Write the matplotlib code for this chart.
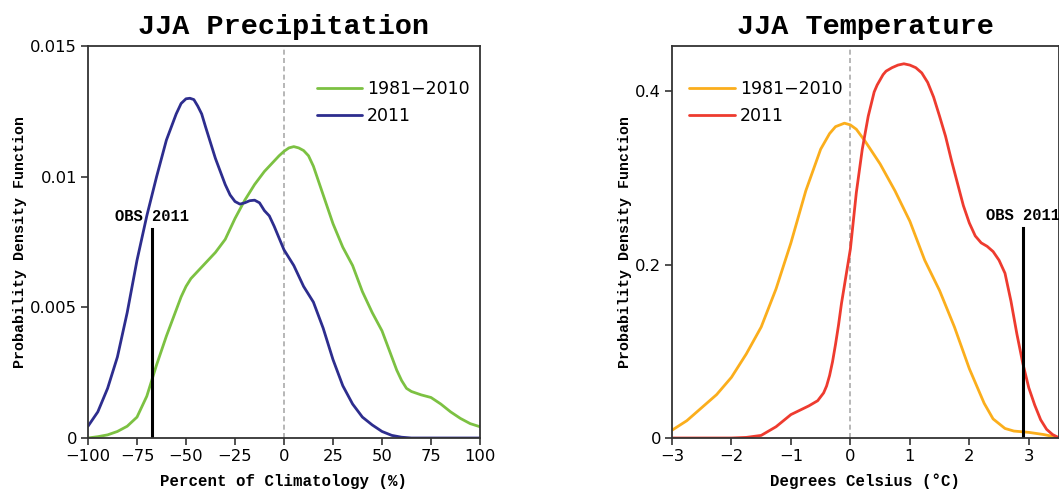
import matplotlib
matplotlib.use("Agg")
import matplotlib.pyplot as plt

# ---- data ----
precip_clim_x = [-100, -95, -90, -85, -80, -75, -70, -65, -60, -55, -52.5, -50, -47.5,
                 -45, -40, -35, -30, -25, -20, -15, -10, -5, -2.5, 0, 2.5, 5, 7.5,
                 10, 12.5, 15, 20, 25, 30, 35, 40, 45, 50, 55, 57.5, 60, 62.5, 65,
                 70, 75, 80, 85, 90, 95, 100]
precip_clim = [0.0, 0.00005, 0.00012, 0.00025, 0.00045, 0.0008, 0.0016, 0.0028,
               0.0039, 0.0049, 0.0054, 0.0058, 0.0061, 0.0063, 0.0067, 0.0071,
               0.0076, 0.0084, 0.0091, 0.0097, 0.0102, 0.0106, 0.0108, 0.01097,
               0.0111, 0.01115, 0.0111, 0.0110, 0.0108, 0.0104, 0.0093, 0.0082,
               0.0073, 0.0066, 0.0056, 0.0048, 0.0041, 0.0031, 0.0026, 0.0022,
               0.0019, 0.00178, 0.00165, 0.00155, 0.0013, 0.0010, 0.00075,
               0.00055, 0.00043]
precip_2011_x = [-100, -95, -90, -85, -80, -75, -70, -65, -60, -55, -52.5, -50, -48,
                 -46, -44, -42, -40, -35, -30, -27.5, -25, -22.5, -20, -17.5, -15,
                 -12.5, -10, -7.5, -5, 0, 5, 10, 15, 20, 25, 30, 35, 40, 45, 50,
                 55, 60, 65, 70, 80, 90, 100]
precip_2011 = [0.00045, 0.0010, 0.0019, 0.0031, 0.0048, 0.0068, 0.0085, 0.0100,
               0.0114, 0.0124, 0.0128, 0.01298, 0.0130, 0.01295, 0.0127, 0.0124,
               0.0119, 0.0107, 0.0097, 0.0093, 0.00905, 0.00895, 0.0090, 0.00908,
               0.0091, 0.0090, 0.0087, 0.0085, 0.0081, 0.0072, 0.0066, 0.0058,
               0.0052, 0.0042, 0.0030, 0.0020, 0.0013, 0.0008, 0.0005, 0.00025,
               0.0001, 0.00003, 0.0, 0.0, 0.0, 0.0, 0.0]
precip_obs = -67.3
precip_obs_top = 0.0080

temp_clim_x = [-3.0, -2.75, -2.5, -2.25, -2.0, -1.75, -1.5, -1.25, -1.0, -0.75,
               -0.5, -0.35, -0.25, -0.1, 0.0, 0.1, 0.25, 0.5, 0.75, 1.0, 1.25,
               1.5, 1.75, 2.0, 2.25, 2.4, 2.6, 2.75, 3.0, 3.25, 3.5]
temp_clim = [0.009, 0.020, 0.035, 0.050, 0.070, 0.097, 0.128, 0.172, 0.225, 0.285,
             0.333, 0.351, 0.359, 0.363, 0.361, 0.356, 0.342, 0.316, 0.285, 0.250,
             0.205, 0.170, 0.128, 0.080, 0.040, 0.022, 0.011, 0.008, 0.0065,
             0.004, 0.0005]
temp_2011_x = [-3.0, -2.5, -2.0, -1.75, -1.5, -1.25, -1.0, -0.85, -0.7, -0.55,
               -0.45, -0.4, -0.35, -0.3, -0.25, -0.2, -0.15, -0.1, -0.05, 0.0, 0.1,
               0.2, 0.3, 0.4, 0.45, 0.5, 0.55, 0.6, 0.7, 0.8, 0.9, 1.0, 1.1, 1.2,
               1.3, 1.4, 1.5, 1.6, 1.7, 1.8, 1.9, 2.0, 2.1, 2.2, 2.3, 2.4, 2.5,
               2.6, 2.7, 2.8, 2.9, 3.0, 3.1, 3.2, 3.3, 3.4, 3.5]
temp_2011 = [0.0, 0.0, 0.0, 0.0007, 0.003, 0.013, 0.027, 0.032, 0.037, 0.043,
             0.052, 0.060, 0.072, 0.088, 0.108, 0.130, 0.155, 0.176, 0.197, 0.218,
             0.283, 0.333, 0.371, 0.399, 0.407, 0.413, 0.419, 0.423, 0.427, 0.430,
             0.4315, 0.430, 0.427, 0.421, 0.410, 0.393, 0.371, 0.348, 0.320,
             0.294, 0.268, 0.248, 0.233, 0.225, 0.221, 0.215, 0.205, 0.190, 0.158,
             0.120, 0.086, 0.058, 0.038, 0.021, 0.010, 0.004, 0.0005]
temp_obs = 2.9
temp_obs_top = 0.242

precip_xticks = [-100, -75, -50, -25, 0, 25, 50, 75, 100]
precip_yticks = [0, 0.005, 0.01, 0.015]
precip_ylabels = ["0", "0.005", "0.01", "0.015"]
temp_xticks = [-3, -2, -1, 0, 1, 2, 3]
temp_yticks = [0, 0.2, 0.4]
temp_ylabels = ["0", "0.2", "0.4"]

MONO = "Liberation Mono"
SANS = "DejaVu Sans"

fig = plt.figure(figsize=(10.59, 4.94), dpi=100)
ax1 = fig.add_axes([88 / 1059, 56 / 494, 392 / 1059, 392 / 494])
ax2 = fig.add_axes([672 / 1059, 56 / 494, 386.5 / 1059, 392 / 494])


def style(ax, title, xlabel):
    for s in ax.spines.values():
        s.set_color("#333333")
        s.set_linewidth(1.3)
    ax.tick_params(direction="out", length=5, width=1.2, color="#333333",
                   labelsize=11.8, pad=3)
    for lab in ax.get_xticklabels() + ax.get_yticklabels():
        lab.set_family(SANS)
    ax.set_title(title, fontfamily=MONO, fontweight="bold", fontsize=20.5, pad=9)
    ax.set_xlabel(xlabel, fontfamily=MONO, fontweight="bold", fontsize=11.3,
                  labelpad=7)
    ax.set_ylabel("Probability Density Function", fontfamily=MONO,
                  fontweight="bold", fontsize=10.8, labelpad=2)


line_kw = dict(lw=2.0, solid_joinstyle="round", solid_capstyle="round")
leg_kw = dict(frameon=False, handlelength=2.6, handletextpad=0.3,
              labelspacing=0.55, borderaxespad=0.2,
              prop={"family": SANS, "size": 12.5})

# precipitation
ax1.axvline(0, color="#aaaaaa", lw=1.2, ls=(0, (3, 2)))
ax1.plot(precip_clim_x, precip_clim, color="#7cc142", label="1981\u22122010", **line_kw)
ax1.plot(precip_2011_x, precip_2011, color="#2d2d8e", label="2011", **line_kw)
ax1.plot([precip_obs, precip_obs], [0, precip_obs_top], color="black", lw=2.2)
ax1.text(precip_obs, precip_obs_top + 0.0002, "OBS 2011", ha="center", va="bottom",
         fontfamily=MONO, fontweight="bold", fontsize=11.2)
ax1.set_xlim(-100, 100)
ax1.set_ylim(0, 0.015)
ax1.set_xticks(precip_xticks)
ax1.set_yticks(precip_yticks)
ax1.set_yticklabels(precip_ylabels)
style(ax1, "JJA Precipitation", "Percent of Climatology (%)")
ax1.legend(loc="upper right", bbox_to_anchor=(1.0, 0.94), **leg_kw)

# temperature
ax2.axvline(0, color="#aaaaaa", lw=1.2, ls=(0, (3, 2)))
ax2.plot(temp_clim_x, temp_clim, color="#fbae1c", label="1981\u22122010", **line_kw)
ax2.plot(temp_2011_x, temp_2011, color="#ee3b2f", label="2011", **line_kw)
ax2.plot([temp_obs, temp_obs], [0, temp_obs_top], color="black", lw=2.2)
ax2.text(temp_obs, temp_obs_top + 0.006, "OBS 2011", ha="center", va="bottom",
         fontfamily=MONO, fontweight="bold", fontsize=11.2)
ax2.set_xlim(-3, 3.5)
ax2.set_ylim(0, 0.452)
ax2.set_xticks(temp_xticks)
ax2.set_yticks(temp_yticks)
ax2.set_yticklabels(temp_ylabels)
style(ax2, "JJA Temperature", "Degrees Celsius (\u00b0C)")
ax2.legend(loc="upper left", bbox_to_anchor=(0.018, 0.94), **leg_kw)

fig.savefig("out.png", dpi=100)
